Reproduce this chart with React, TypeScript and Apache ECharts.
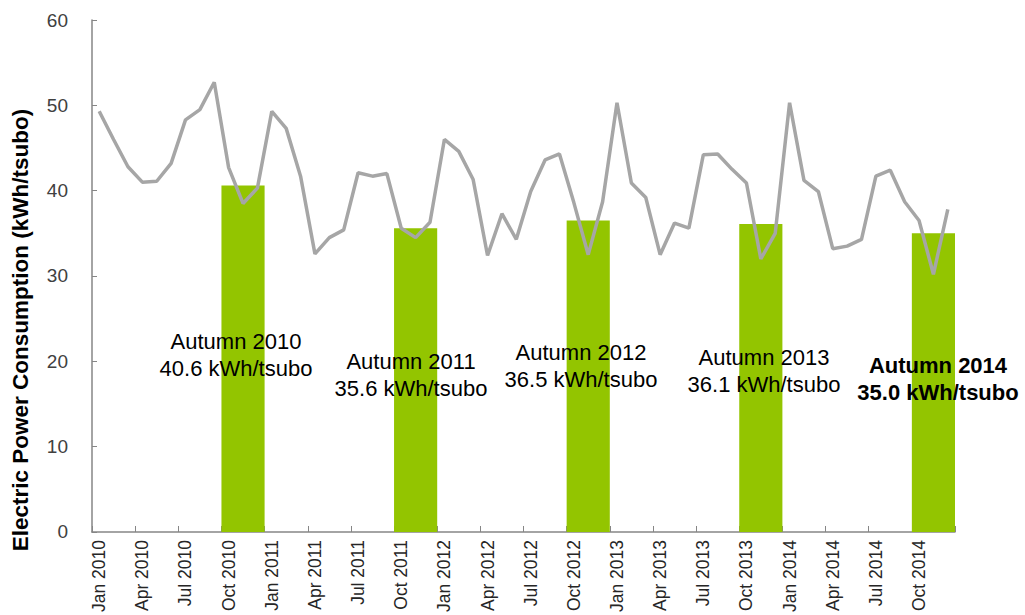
import React, { useEffect, useRef } from "react";
import * as echarts from "echarts";

const years = [2010, 2011, 2012, 2013, 2014];
const monthNames = ["Jan", "Feb", "Mar", "Apr", "May", "Jun", "Jul", "Aug", "Sep", "Oct", "Nov", "Dec"];
const months: string[] = [];
years.forEach((y) => monthNames.forEach((m) => months.push(`${m} ${y}`)));

const quarters: string[] = [];
years.forEach((y) => ["Q1", "Q2", "Q3", "Q4"].forEach((q) => quarters.push(`${q} ${y}`)));

const monthly2010 = [49.3, 46.0, 42.8, 41.0, 41.1, 43.2, 48.3, 49.5, 52.7, 42.7, 38.5, 40.3];
const monthly2011 = [49.3, 47.3, 41.7, 32.6, 34.5, 35.4, 42.1, 41.7, 42.0, 35.6, 34.5, 36.3];
const monthly2012 = [46.0, 44.6, 41.3, 32.4, 37.3, 34.3, 39.9, 43.6, 44.3, 38.6, 32.5, 38.7];
const monthly2013 = [50.3, 40.9, 39.2, 32.5, 36.2, 35.6, 44.2, 44.3, 42.5, 40.9, 32.0, 35.0];
const monthly2014 = [50.3, 41.2, 39.9, 33.2, 33.5, 34.3, 41.7, 42.4, 38.7, 36.5, 30.2, 37.8];
const monthlyValues = [...monthly2010, ...monthly2011, ...monthly2012, ...monthly2013, ...monthly2014];

const autumnValues = [40.6, 35.6, 36.5, 36.1, 35.0];

const yTicks = { min: 0, max: 60, interval: 10 };

// annotation placement (pixels)
const notePos = [
  { x: 236, y: 355, bold: false },
  { x: 411, y: 375, bold: false },
  { x: 581, y: 366, bold: false },
  { x: 764, y: 371, bold: false },
  { x: 938, y: 379, bold: true },
];

export default function App() {
  const ref = useRef<HTMLDivElement>(null);
  useEffect(() => {
    if (!ref.current) return;
    const chart = echarts.init(ref.current, undefined, { renderer: "svg" });
    const barData: (number | null)[] = quarters.map(() => null);
    years.forEach((_, i) => {
      barData[i * 4 + 3] = autumnValues[i];
    });
    const font = "Arial, 'Liberation Sans', sans-serif";
    const notes = years.map((y, i) => ({
      type: "text",
      x: notePos[i].x,
      y: notePos[i].y,
      z: 100,
      style: {
        text: `Autumn ${y}\n${autumnValues[i].toFixed(1)} kWh/tsubo`,
        fontFamily: font,
        fontSize: 22,
        fontWeight: notePos[i].bold ? "bold" : "normal",
        fill: "#000",
        lineHeight: 27,
        textAlign: "center",
        textVerticalAlign: "middle",
      },
    }));
    chart.setOption({
      animation: false,
      backgroundColor: "#fff",
      grid: { left: 92, right: 70, top: 20, bottom: 82, containLabel: false },
      xAxis: [
        {
          type: "category",
          data: months,
          boundaryGap: true,
          axisLine: { show: true, lineStyle: { color: "#868686", width: 1.5 } },
          axisTick: { show: true, inside: true, length: 6, interval: 2, lineStyle: { color: "#868686" } },
          axisLabel: {
            interval: 2,
            rotate: 90,
            margin: 8,
            fontSize: 17.5,
            fontFamily: font,
            color: "#262626",
          },
          splitLine: { show: false },
        },
        {
          type: "category",
          data: quarters,
          boundaryGap: true,
          show: false,
          position: "bottom",
        },
      ],
      yAxis: {
        type: "value",
        min: yTicks.min,
        max: yTicks.max,
        interval: yTicks.interval,
        axisLine: { show: true, lineStyle: { color: "#868686", width: 1.5 } },
        axisTick: { show: true, inside: true, length: 5, lineStyle: { color: "#868686" } },
        axisLabel: { fontSize: 19, fontFamily: font, color: "#404040", margin: 24 },
        splitLine: { show: false },
      },
      series: [
        {
          type: "bar",
          xAxisIndex: 1,
          data: barData,
          barWidth: "100%",
          itemStyle: { color: "#93C500" },
          z: 1,
        },
        {
          type: "line",
          xAxisIndex: 0,
          data: monthlyValues,
          symbol: "none",
          lineStyle: { color: "#A6A6A6", width: 3.5 },
          z: 2,
        },
      ],
      graphic: [
        {
          type: "text",
          x: 20,
          y: 330,
          rotation: Math.PI / 2,
          style: {
            text: "Electric Power Consumption (kWh/tsubo)",
            fontFamily: font,
            fontSize: 22.5,
            fontWeight: "bold",
            fill: "#000",
            textAlign: "center",
            textVerticalAlign: "middle",
          },
        },
        ...notes,
      ],
    });
    return () => chart.dispose();
  }, []);
  return <div ref={ref} style={{ position: "fixed", left: 0, top: 0, width: 1025, height: 615 }} />;
}
